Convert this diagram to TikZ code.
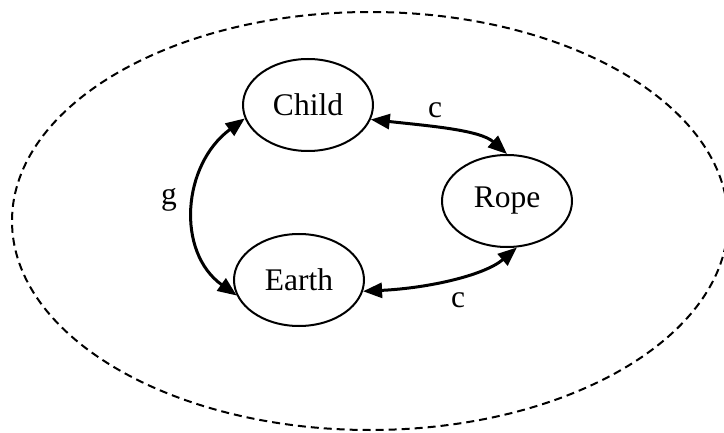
\documentclass[tikz,border=0pt]{standalone}
\usepackage{fontspec}
\setmainfont{Liberation Serif}
\usepackage{tikz}
\usetikzlibrary{arrows.meta,shapes.geometric,positioning}

\begin{document}
\begin{tikzpicture}[x=1pt,y=1pt,
		body/.style={draw, ellipse, line width=2pt, minimum width=130pt, minimum height=92pt, inner sep=0pt, font=\fontsize{31.5}{36}\selectfont},
		force/.style={{Triangle[length=19pt,width=15pt]}-{Triangle[length=19pt,width=15pt]}, line width=3pt},
		lbl/.style={font=\fontsize{31.5}{36}\selectfont}]
		\useasboundingbox (0,0) rectangle (724,432);

		% system boundary
		\draw[line width=2pt, dash pattern=on 8pt off 5pt] (370,211) ellipse [x radius=358pt, y radius=209pt];

		\node[body] (child) at (308,327) {Child};
		\node[body] (rope) at (507,231) {Rope};
		\node[body] (earth) at (299,152) {Earth};

		\draw[force] (child.192) .. controls (182,267) and (176,180) .. (earth.194);
		\draw[force] (child.347) .. controls (430,306) and (480,302) .. (rope.90);
		\draw[force] (earth.350) .. controls (430,144) and (485,157) .. (rope.282);

		\node[lbl] (g) at (169,232) {g};
		\node[lbl] (c1) at (435,322) {c};
		\node[lbl] (c2) at (458,132) {c};
	\end{tikzpicture}
\end{document}
